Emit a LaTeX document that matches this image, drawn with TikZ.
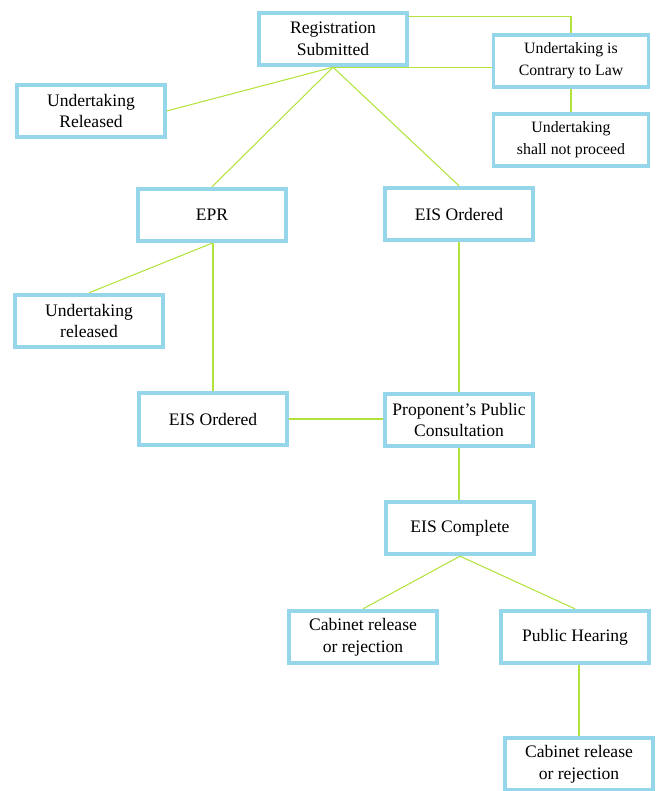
\documentclass[tikz,border=0pt]{standalone}
\usepackage{fontspec}
\setmainfont{Liberation Serif}
\usetikzlibrary{positioning}
\definecolor{boxblue}{RGB}{150, 214, 234}
\definecolor{linkgreen}{RGB}{178, 226, 60}

\begin{document}
\begin{tikzpicture}[x=0.02cm, y=-0.02cm,
    box/.style={draw=boxblue, fill=white, line width=2.2pt, minimum width=2.95cm, minimum height=1.05cm, align=center, inner sep=2pt, font=\fontsize{10}{12.5}\selectfont},
    smallbox/.style={box, font=\fontsize{9}{12.5}\selectfont},
    link/.style={draw=linkgreen, line width=0.6pt}]
        \useasboundingbox (0,0) rectangle (658,791);

        % Top row
        \node[box] (reg) at (333,39) {Registration\\Submitted};
        \node[smallbox, minimum width=3.1cm] (contrary) at (571,61) {Undertaking is\\Contrary to Law};
        \node[smallbox, minimum width=3.1cm] (noproceed) at (571,140) {Undertaking\\shall not proceed};
        \node[box] (relone) at (91,111) {Undertaking\\Released};

        % Screening
        \node[box] (epr) at (212,215) {EPR};
        \node[box] (eisone) at (459,214) {EIS Ordered};
        \node[box] (reltwo) at (89,321) {Undertaking\\released};
        \node[box] (eistwo) at (213,419) {EIS Ordered};
        \node[box] (consult) at (459,420) {Proponent's Public\\Consultation};

        % Decision
        \node[box] (complete) at (460,528) {EIS Complete};
        \node[box] (cabone) at (363,637) {Cabinet release\\or rejection};
        \node[box] (hearing) at (575,637) {Public Hearing};
        \node[box] (cabtwo) at (579,764) {Cabinet release\\or rejection};

        % Connectors
        \draw[link] ([yshift=-3pt]reg.north east) -| (contrary.north);
        \draw[link] (contrary.west |- reg.south) -- (reg.south);
        \draw[link] (contrary) -- (noproceed);
        \draw[link] (relone.east) -- (reg.south);
        \draw[link] (epr.north) -- (reg.south);
        \draw[link] (eisone.north) -- (reg.south);
        \draw[link] (reltwo.north) -- (epr.south);
        \draw[link] (eistwo.north) -- (eistwo.north |- epr.south);
        \draw[link] (eistwo.east) -- (eistwo.east -| consult.west);
        \draw[link] (consult) -- (eisone);
        \draw[link] (consult.south) -- (consult.south |- complete.north);
        \draw[link] (complete.south) -- (cabone.north);
        \draw[link] (complete.south) -- (hearing.north);
        \draw[link] (cabtwo.north) -- (cabtwo.north |- hearing.south);
    \end{tikzpicture}
\end{document}
